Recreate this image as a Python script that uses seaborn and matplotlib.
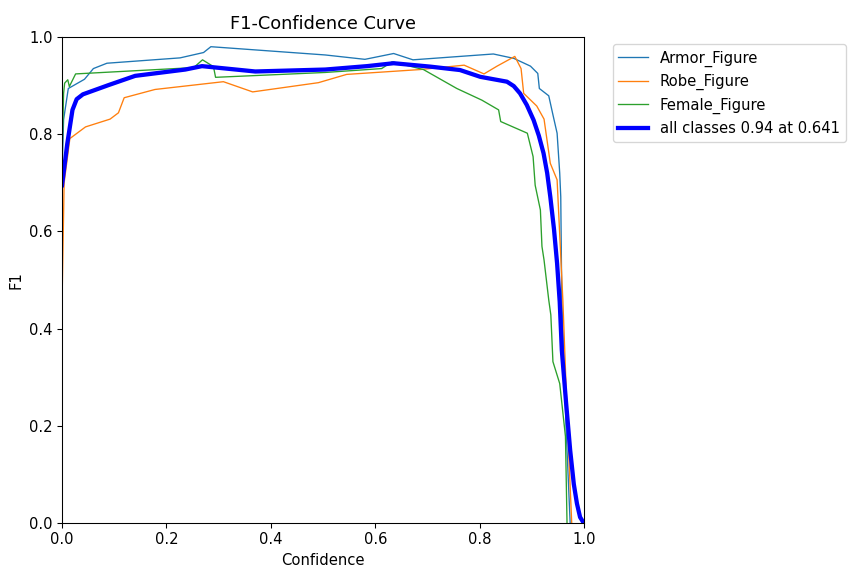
import matplotlib
matplotlib.use("Agg")
import matplotlib.pyplot as plt
import seaborn as sns

# values
armor_x = [0.0, 0.003, 0.012, 0.043, 0.060, 0.086, 0.226, 0.271, 0.285, 0.504, 0.580,
           0.635, 0.672, 0.826, 0.865, 0.897, 0.911, 0.914, 0.932, 0.940, 0.948, 0.953,
           0.955, 0.957, 0.965, 0.973]
armor_y = [0.72, 0.83, 0.894, 0.913, 0.935, 0.946, 0.957, 0.968, 0.980, 0.963, 0.954,
           0.966, 0.953, 0.965, 0.956, 0.940, 0.925, 0.894, 0.879, 0.840, 0.802, 0.720,
           0.671, 0.459, 0.20, 0.0]

robe_x = [0.0, 0.004, 0.015, 0.045, 0.092, 0.108, 0.119, 0.178, 0.309, 0.365, 0.491,
          0.545, 0.686, 0.770, 0.808, 0.833, 0.867, 0.879, 0.884, 0.909, 0.923, 0.935,
          0.948, 0.959, 0.968, 0.976]
robe_y = [0.452, 0.70, 0.791, 0.815, 0.831, 0.844, 0.875, 0.892, 0.908, 0.887, 0.906,
          0.923, 0.933, 0.942, 0.924, 0.940, 0.960, 0.935, 0.884, 0.858, 0.831, 0.740,
          0.706, 0.459, 0.20, 0.0]

female_x = [0.0, 0.003, 0.005, 0.011, 0.014, 0.026, 0.252, 0.269, 0.290, 0.294, 0.504,
            0.612, 0.632, 0.692, 0.756, 0.804, 0.836, 0.840, 0.891, 0.902, 0.906, 0.916,
            0.919, 0.923, 0.932, 0.936, 0.940, 0.953, 0.964, 0.967]
female_y = [0.75, 0.884, 0.905, 0.912, 0.898, 0.924, 0.937, 0.953, 0.939, 0.917, 0.927,
            0.935, 0.949, 0.933, 0.894, 0.870, 0.850, 0.826, 0.802, 0.754, 0.695, 0.644,
            0.569, 0.541, 0.459, 0.428, 0.332, 0.287, 0.178, 0.0]

mean_x = [0.0, 0.01, 0.02, 0.028, 0.04, 0.089, 0.140, 0.236, 0.268, 0.370, 0.504, 0.584,
          0.635, 0.705, 0.762, 0.801, 0.852, 0.865, 0.877, 0.890, 0.903, 0.913, 0.922,
          0.929, 0.935, 0.942, 0.948, 0.953, 0.957, 0.965, 0.973, 0.980, 0.986, 0.992, 0.999]
mean_y = [0.695, 0.78, 0.85, 0.872, 0.882, 0.901, 0.920, 0.933, 0.940, 0.929, 0.933, 0.940,
          0.946, 0.939, 0.932, 0.918, 0.908, 0.899, 0.884, 0.860, 0.829, 0.797, 0.761,
          0.720, 0.671, 0.605, 0.534, 0.455, 0.356, 0.250, 0.150, 0.080, 0.040, 0.012, 0.0]

names = ["Armor_Figure", "Robe_Figure", "Female_Figure"]
mean_label = "all classes 0.94 at 0.641"

plt.rcParams["font.size"] = 11.1

fig = plt.figure(figsize=(8.95, 6.0), dpi=96)
ax = fig.add_axes([0.0722, 0.092, 0.6078, 0.8438])

colors = ["tab:blue", "tab:orange", "tab:green"]
for (xs, ys), name, c in zip([(armor_x, armor_y), (robe_x, robe_y), (female_x, female_y)],
                             names, colors):
    sns.lineplot(x=xs, y=ys, ax=ax, color=c, linewidth=1, label=name, sort=False)
sns.lineplot(x=mean_x, y=mean_y, ax=ax, color="blue", linewidth=3.2, label=mean_label, sort=False)

ax.set_xlim(0, 1)
ax.set_ylim(0, 1)
ax.set_xlabel("Confidence")
ax.set_ylabel("F1")
ax.set_title("F1-Confidence Curve")
ax.legend(bbox_to_anchor=(1.04, 1), loc="upper left")

fig.savefig("out.png", dpi=96)
